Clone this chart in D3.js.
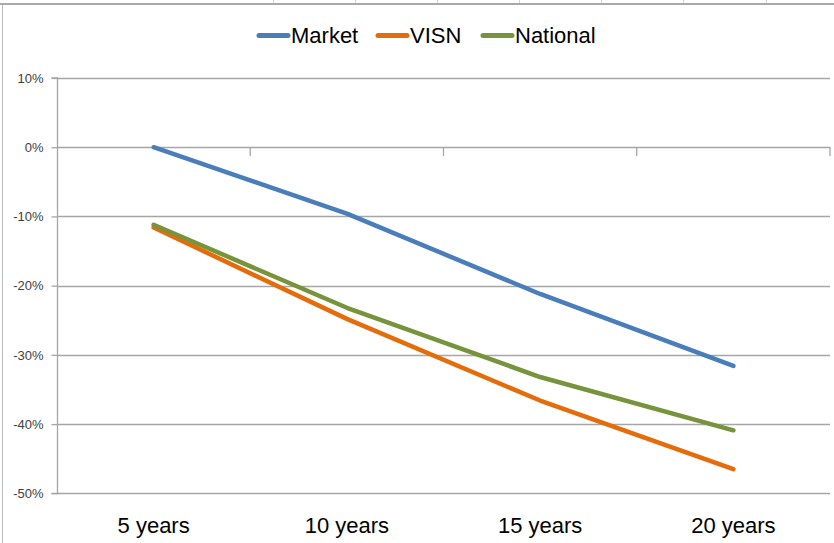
<!DOCTYPE html>
<html>
<head>
<meta charset="utf-8">
<script src="https://cdn.jsdelivr.net/npm/d3@7"></script>
<style>
  html, body { margin: 0; padding: 0; background: #fff; }
  svg { display: block; }
</style>
</head>
<body>
<svg id="chart" width="834" height="543"></svg>
<script>
const categories = ["5 years", "10 years", "15 years", "20 years"];
const seriesNames = ["Market", "VISN", "National"];
const market = [0.0, -9.6, -21.2, -31.6];
const visn = [-11.6, -24.8, -36.6, -46.5];
const national = [-11.2, -23.2, -33.2, -40.9];
const yTicks = [10, 0, -10, -20, -30, -40, -50];
const colors = ["#4A7EBB", "#E46C0A", "#77933C"];
const sheetColumnLines = [273, 355, 437, 519, 601, 683, 766];

const series = [market, visn, national];
const svg = d3.select("#chart");
const W = 834, H = 543;
const plot = { left: 57, right: 830, top: 78, bottom: 493.3 };

// spreadsheet artifacts at the top/left edges
const deco = svg.append("g");
deco.selectAll("line.col").data(sheetColumnLines).join("line")
  .attr("x1", d => d + 0.5).attr("x2", d => d + 0.5)
  .attr("y1", 0).attr("y2", 4)
  .attr("stroke", "#d4d4d4").attr("stroke-width", 1);
deco.append("rect").attr("x", 0).attr("y", 3).attr("width", W).attr("height", 2).attr("fill", "#a9a9a9");
deco.append("line").attr("x1", 2.5).attr("x2", 2.5).attr("y1", 5).attr("y2", H)
  .attr("stroke", "#bcbcbc").attr("stroke-width", 1);

const x = d3.scaleBand().domain(categories).range([plot.left, plot.right]);
const y = d3.scaleLinear().domain([-50, 10]).range([plot.bottom, plot.top]);

// gridlines
svg.append("g").selectAll("line").data(yTicks).join("line")
  .attr("x1", plot.left).attr("x2", plot.right)
  .attr("y1", d => Math.round(y(d)) + 0.5).attr("y2", d => Math.round(y(d)) + 0.5)
  .attr("stroke", "#a6a6a6").attr("stroke-width", 1.3);

// y axis
const yAxis = d3.axisLeft(y).tickValues(yTicks).tickSize(6).tickPadding(8)
  .tickFormat(d => d + "%");
const gy = svg.append("g").attr("transform", `translate(${plot.left + 0.5},0)`).call(yAxis);
gy.select(".domain").attr("stroke", "#a6a6a6").attr("stroke-width", 1.3).attr("d", `M-6,${plot.top}H0V${plot.bottom}H-6`);
gy.selectAll(".tick line").attr("stroke", "#a6a6a6").attr("stroke-width", 1.3);
gy.selectAll(".tick text").attr("fill", "#404040")
  .style("font-family", "'Liberation Sans', Arial, sans-serif").style("font-size", "13px");

// x axis at 0% line, ticks between categories
const boundaries = categories.map(c => x(c)).concat([plot.right]);
const gx = svg.append("g");
gx.selectAll("line").data(boundaries.slice(1)).join("line")
  .attr("x1", d => d).attr("x2", d => d)
  .attr("y1", Math.round(y(0))).attr("y2", Math.round(y(0)) + 9)
  .attr("stroke", "#a6a6a6").attr("stroke-width", 1.3);

// x category labels
svg.append("g").selectAll("text").data(categories).join("text")
  .attr("x", d => x(d) + x.bandwidth() / 2)
  .attr("y", 533)
  .attr("text-anchor", "middle")
  .attr("fill", "#000")
  .style("font-family", "'Liberation Sans', Arial, sans-serif")
  .style("font-size", "22px")
  .text(d => d);

// lines
const line = d3.line()
  .x((d, i) => x(categories[i]) + x.bandwidth() / 2)
  .y(d => y(d));
svg.append("g").selectAll("path").data(series).join("path")
  .attr("d", d => line(d))
  .attr("fill", "none")
  .attr("stroke", (d, i) => colors[i])
  .attr("stroke-width", 4.5)
  .attr("stroke-linecap", "round")
  .attr("stroke-linejoin", "round");

// legend
const legendItems = [
  { name: seriesNames[0], sx: 257, tx: 291 },
  { name: seriesNames[1], sx: 376, tx: 410 },
  { name: seriesNames[2], sx: 481, tx: 515 }
];
const lg = svg.append("g");
legendItems.forEach((it, i) => {
  lg.append("line").attr("x1", it.sx + 2).attr("x2", it.sx + 31)
    .attr("y1", 35.5).attr("y2", 35.5)
    .attr("stroke", colors[i]).attr("stroke-width", 5).attr("stroke-linecap", "round");
  lg.append("text").attr("x", it.tx).attr("y", 43)
    .attr("fill", "#000")
    .style("font-family", "'Liberation Sans', Arial, sans-serif")
    .style("font-size", "22px")
    .text(it.name);
});
</script>
</body>
</html>
